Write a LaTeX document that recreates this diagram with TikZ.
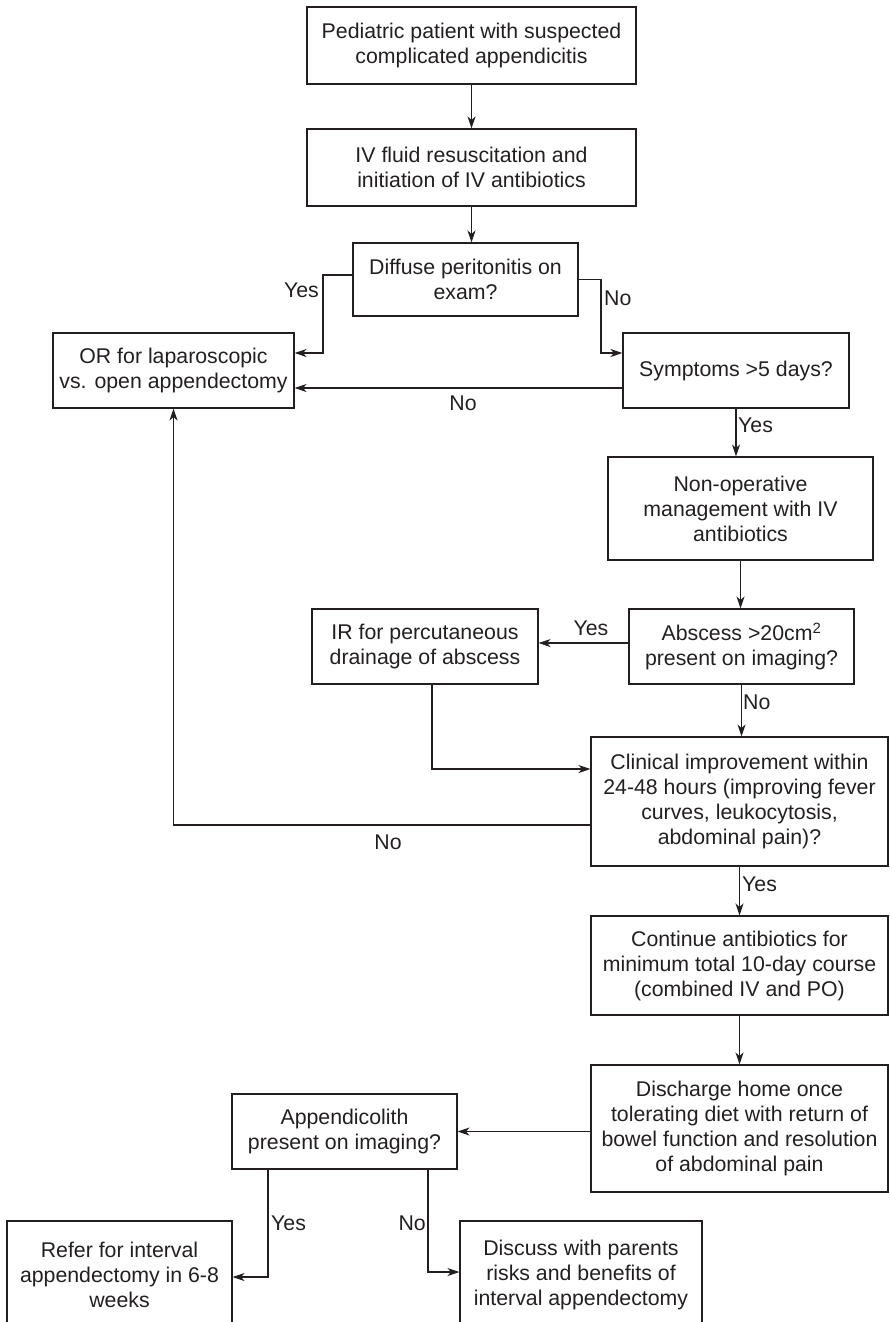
\documentclass[tikz,border=0pt]{standalone}
\usepackage{fontspec}
\setmainfont{Liberation Sans}
\usetikzlibrary{arrows.meta}
\definecolor{ink}{RGB}{35,31,32}
\begin{document}
\begin{tikzpicture}[x=1pt,y=-1pt,
  box/.style={draw=ink, text=ink, line width=1.1pt, align=center, inner sep=0pt,
    font=\fontsize{21.3}{25}\selectfont},
  lbl/.style={inner sep=1pt, text=ink, font=\fontsize{21.3}{25}\selectfont},
  arr/.style={draw=ink, line width=1.1pt, -{Stealth[length=12pt,width=8pt,inset=3.5pt]}},
  ln/.style={line width=1.1pt}]
\useasboundingbox (0,0) rectangle (889,1322);

\node[box, minimum width=329pt, minimum height=77pt] (b1) at (471.5,45.5) {Pediatric patient with suspected\\complicated appendicitis};
\node[box, minimum width=329pt, minimum height=77pt] (b2) at (471.5,167.5) {IV fluid resuscitation and\\initiation of IV antibiotics};
\node[box, minimum width=225pt, minimum height=73pt] (b3) at (465.5,279.5) {Diffuse peritonitis on\\exam?};
\node[box, minimum width=241pt, minimum height=75pt] (or) at (173.5,370.5) {OR for laparoscopic\\vs. open appendectomy};
\node[box, minimum width=226pt, minimum height=75pt] (sym) at (736,370.5) {Symptoms >5 days?};
\node[box, minimum width=265pt, minimum height=103pt] (nonop) at (740.5,508.5) {Non-operative\\management with IV\\antibiotics};
\node[box, minimum width=225pt, minimum height=75pt] (abs) at (741.5,646.5) {Abscess >20cm\textsuperscript{2}\\present on imaging?};
\node[box, minimum width=226pt, minimum height=75pt] (ir) at (425,646.5) {IR for percutaneous\\drainage of abscess};
\node[box, minimum width=297pt, minimum height=129pt] (clin) at (739.5,801.5) {Clinical improvement within\\24-48 hours (improving fever\\curves, leukocytosis,\\abdominal pain)?};
\node[box, minimum width=297pt, minimum height=99pt] (cont) at (739.5,965.5) {Continue antibiotics for\\minimum total 10-day course\\(combined IV and PO)};
\node[box, minimum width=297pt, minimum height=127pt] (disc) at (739.5,1128.5) {Discharge home once\\tolerating diet with return of\\bowel function and resolution\\of abdominal pain};
\node[box, minimum width=225pt, minimum height=75pt] (app) at (344.5,1131.5) {Appendicolith\\present on imaging?};
\node[box, minimum width=225pt, minimum height=108pt] (refer) at (119.5,1275) {Refer for interval\\appendectomy in 6-8\\weeks};
\node[box, minimum width=242pt, minimum height=108pt] (discuss) at (581,1275) {Discuss with parents\\risks and benefits of\\interval appendectomy};

% connectors
\draw[arr] (b1) -- (b2);
\draw[arr] (b2.south) -- (b2.south |- b3.north);

\coordinate (yesA) at (323,353);
\draw[arr] ([yshift=4.5pt]b3.west) -| (yesA) -- (yesA -| or.east);
\node[lbl, anchor=east] (lyesA) at (320,290) {Yes};

\coordinate (noA) at (601,353);
\draw[arr] (b3.east) -| (noA) -- (noA -| sym.west);
\node[lbl, anchor=west] (lnoA) at (603,298) {No};

\coordinate (noB) at ([yshift=-17.5pt]sym.west);
\draw[arr] (noB) -- (noB -| or.east);
\node[lbl] (lnoB) at (463,403) {No};

\draw[arr] (sym.south) -- (sym.south |- nonop.north);
\node[lbl, anchor=west] (lyesB) at (737,425) {Yes};

\draw[arr] (nonop.south) -- (nonop.south |- abs.north);

\draw[arr] ([yshift=3.5pt]abs.west) -- ([yshift=3.5pt]abs.west -| ir.east);
\node[lbl] (lyesC) at (591,628) {Yes};

\draw[arr] (abs.south) -- (abs.south |- clin.north);
\node[lbl, anchor=west] (lnoC) at (742,702) {No};

\coordinate (irC) at (432,769);
\draw[arr] (ir.south -| irC) -- (irC) -- (irC -| clin.west);

\draw[arr] ([yshift=-23.5pt]clin.west) -| (or.south);
\node[lbl] (lnoD) at (388,842) {No};

\draw[arr] (clin.south) -- (cont.north);
\node[lbl, anchor=west] (lyesD) at (741,884) {Yes};

\draw[arr] (cont) -- (disc);

\draw[arr] (disc.west |- app.east) -- (app.east);

\coordinate (ay) at (268,1169);
\draw[arr] (app.south -| ay) |- ([yshift=-2pt]refer.east);
\node[lbl, anchor=west] (lyesE) at (270,1223) {Yes};

\coordinate (an) at (428,1169);
\draw[arr] (app.south -| an) |- ([yshift=3pt]discuss.west);
\node[lbl, anchor=east] (lnoE) at (427,1223) {No};
\end{tikzpicture}
\end{document}
